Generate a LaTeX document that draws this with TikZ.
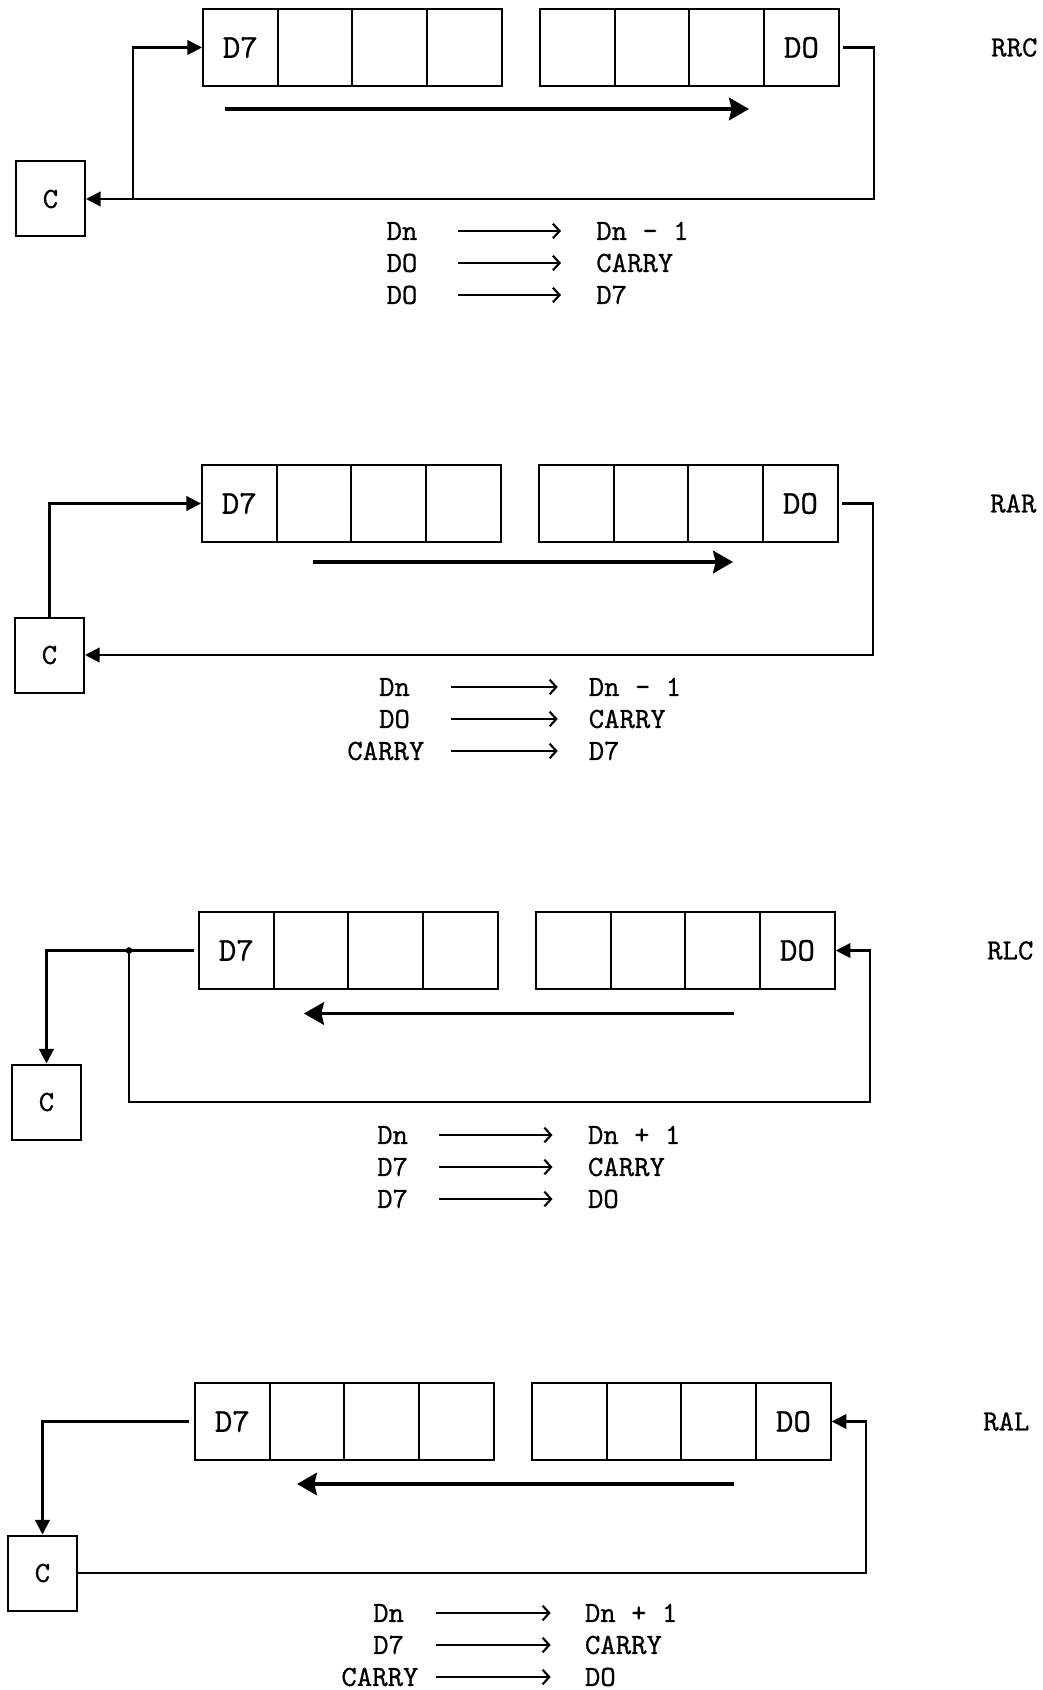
\documentclass[tikz,border=0pt]{standalone}
\usepackage{fontspec}
\usetikzlibrary{arrows.meta}
\newfontfamily\typewriter{lmmono10-regular.otf}[FakeBold=0.6]
\newcommand\regfont{\typewriter\fontsize{25}{30}\selectfont}
\newcommand\tabfont{\typewriter\fontsize{22}{26}\selectfont}
\tikzset{
  cell/.style={draw, line width=1.5pt, minimum width=56pt, minimum height=57.75pt,
    inner sep=0pt, font=\regfont},
  cbox/.style={draw, line width=1.5pt, minimum width=51.75pt, minimum height=56.25pt,
    inner sep=0pt, font=\tabfont},
  link/.style={line width=1.6pt, -{Triangle[length=11pt,width=11pt]}},
  shift arrow/.style={line width=2.3pt, -{Stealth[length=15pt,width=17pt,inset=2pt]}},
  rulesrc/.style={inner sep=0pt, text height=13.4pt, text depth=0pt, font=\tabfont},
  ruledst/.style={anchor=west, inner ysep=0pt, text height=13.4pt,
    text depth=0pt, font=\tabfont},
  rule arrow/.style={line width=1.3pt, -{Straight Barb[length=5pt,width=11pt,line width=1.6pt]}},
  opname/.style={anchor=west, font=\tabfont},
  shiftreg/.pic={
    \node[cell] (-a1) at (37.35,38.5) {D7};
    \foreach \i in {2,3,4}
      \node[cell] (-a\i) at ({74.7*\i-37.35},38.5) {};
    \foreach \i in {1,2,3}
      \node[cell] (-b\i) at ({337+74.7*\i-37.35},38.5) {};
    \node[cell] (-b4) at (598.45,38.5) {DO};
    \node[cbox] (-c) at (-152.5,190) {C};
    \coordinate (-rt) at (671,38.5);
    \coordinate (-rb) at (671,190);
    \coordinate (-lt) at (-70,38.5);
    \coordinate (-lb) at (-70,190);
  },
}
\newcommand\wide[1]{\hspace*{-13pt}#1}
\begin{document}
\begin{tikzpicture}[x=0.75pt,y=-0.75pt]
  \useasboundingbox (0,0) rectangle (1042,1690);

  % RRC
  \path (203,9) pic (rrc) {shiftreg}
    ++(22,100) coordinate (rrc-tail) ++(524,0) coordinate (rrc-head)
    (203,9) ++(783.5,38.5) node[opname] (rrc-name) {RRC};
  \draw[shift arrow] (rrc-tail) -- (rrc-head);
  \draw[link, shorten <=2.25pt] (rrc-b4.east) -- (rrc-rt) -- (rrc-rb) -- (rrc-c.east);
  \draw[link] (rrc-lb) -- (rrc-lt) -- (rrc-a1.west);
  \foreach \src/\dst [count=\k] in {Dn/Dn - 1, DO/CARRY, DO/D7}{
    \path (203,9) ++(199,{190+32*\k}) node[rulesrc, minimum width=84pt] (rrc-s\k) {\src}
      ++(159,0) node[ruledst, inner xsep=26.25pt] (rrc-d\k) {\dst};
    \draw[rule arrow] (rrc-s\k) -- (rrc-d\k);
  }

  % RAR
  \path (202,465) pic (rar) {shiftreg}
    ++(111,97) coordinate (rar-tail) ++(420,0) coordinate (rar-head)
    (202,465) ++(783.5,38.5) node[opname] (rar-name) {RAR};
  \draw[shift arrow] (rar-tail) -- (rar-head);
  \draw[link, shorten <=2.25pt] (rar-b4.east) -- (rar-rt) -- (rar-rb) -- (rar-c.east);
  \draw[link] (rar-c.north) |- (rar-a1.west);
  \foreach \src/\dst [count=\k] in {Dn/Dn - 1, DO/CARRY, \wide{CARRY}/D7}{
    \path (202,465) ++(192.5,{190+32*\k}) node[rulesrc, minimum width=84pt] (rar-s\k) {\src}
      ++(163.2,0) node[ruledst, inner xsep=23.1pt] (rar-d\k) {\dst};
    \draw[rule arrow] (rar-s\k) -- (rar-d\k);
  }

  % RLC
  \path (199,912) pic (rlc) {shiftreg}
    ++(535,101.5) coordinate (rlc-tail) ++(-430,0) coordinate (rlc-head)
    (199,912) ++(783.5,38.5) node[opname] (rlc-name) {RLC};
  \draw[shift arrow] (rlc-tail) -- (rlc-head);
  \draw[link] (rlc-lt) -- (rlc-lb) -- (rlc-rb) -- (rlc-rt) -- (rlc-b4.east);
  \draw[link, shorten <=3pt] (rlc-a1.west) -| (rlc-c.north);
  \fill (rlc-lt) circle[radius=2.5pt];
  \foreach \src/\dst [count=\k] in {Dn/Dn + 1, D7/CARRY, D7/DO}{
    \path (199,912) ++(193.6,{191+32*\k}) node[rulesrc, minimum width=69.6pt] (rlc-s\k) {\src}
      ++(159.9,0) node[ruledst, inner xsep=26.4pt] (rlc-d\k) {\dst};
    \draw[rule arrow] (rlc-s\k) -- (rlc-d\k);
  }

  % RAL
  \path (195,1383) pic (ral) {shiftreg}
    ++(539,101) coordinate (ral-tail) ++(-437,0) coordinate (ral-head)
    (195,1383) ++(783.5,38.5) node[opname] (ral-name) {RAL};
  \draw[shift arrow] (ral-tail) -- (ral-head);
  \draw[link] (ral-c.east) -- (ral-rb) -- (ral-rt) -- (ral-b4.east);
  \draw[link, shorten <=4pt] (ral-a1.west) -| (ral-c.north);
  \foreach \src/\dst [count=\k] in {Dn/Dn + 1, D7/CARRY, \wide{CARRY}/DO}{
    \path (195,1383) ++(193.6,{198+32*\k}) node[rulesrc, minimum width=71.1pt] (ral-s\k) {\src}
      ++(162.1,0) node[ruledst, inner xsep=25.5pt] (ral-d\k) {\dst};
    \draw[rule arrow] (ral-s\k) -- (ral-d\k);
  }
\end{tikzpicture}
\end{document}
